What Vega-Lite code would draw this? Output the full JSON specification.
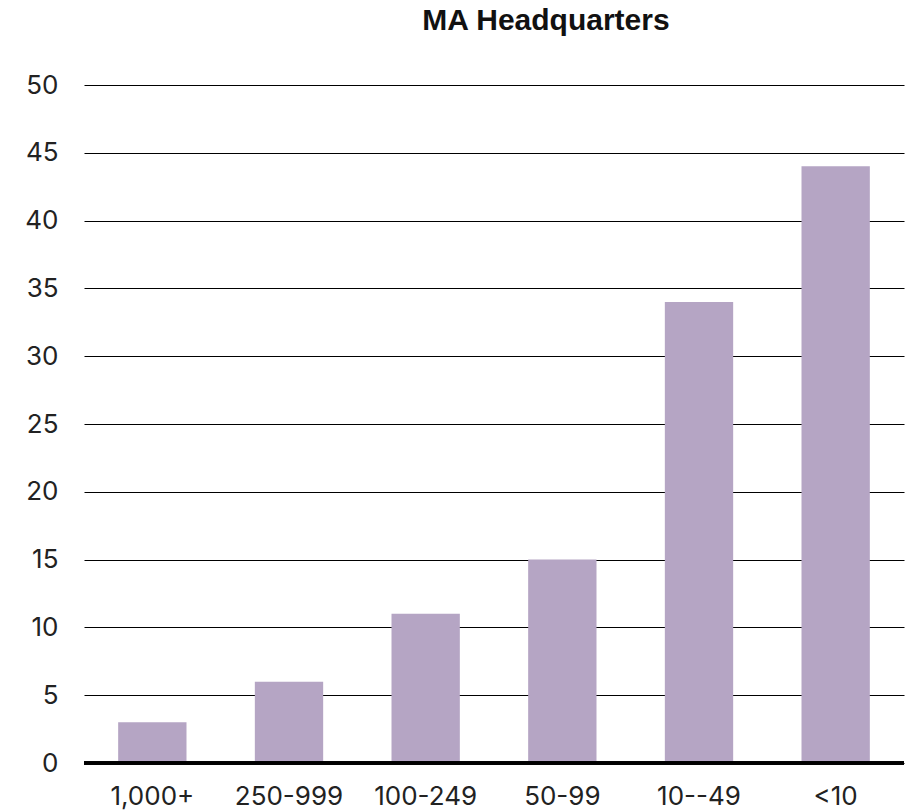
{
  "$schema": "https://vega.github.io/schema/vega-lite/v6.json",
  "autosize": "none",
  "width": 820,
  "height": 678,
  "padding": {"left": 84, "top": 85, "right": 3, "bottom": 48},
  "background": "white",
  "title": {
    "text": "MA Headquarters",
    "font": "Liberation Sans",
    "fontWeight": "bold",
    "fontSize": 30,
    "color": "#111",
    "anchor": "middle",
    "frame": "group",
    "offset": 36,
    "dx": 52
  },
  "data": {
    "values": [
      {"size": "1,000+", "count": 3},
      {"size": "250-999", "count": 6},
      {"size": "100-249", "count": 11},
      {"size": "50-99", "count": 15},
      {"size": "10--49", "count": 34},
      {"size": "<10", "count": 44}
    ]
  },
  "config": {
    "view": {"stroke": null},
    "axis": {"labelFont": "Inter", "labelFontSize": 26, "labelColor": "#222"}
  },
  "layer": [
    {
      "mark": {"type": "bar", "color": "#b5a5c4"},
      "encoding": {
        "x": {
          "field": "size",
          "type": "nominal",
          "sort": null,
          "scale": {"paddingInner": 0.5, "paddingOuter": 0.25},
          "axis": {"title": null, "labelAngle": 0, "ticks": false, "domain": false, "labelPadding": 20}
        },
        "y": {
          "field": "count",
          "type": "quantitative",
          "scale": {"domain": [0, 50], "nice": false},
          "axis": {
            "title": null,
            "values": [0, 5, 10, 15, 20, 25, 30, 35, 40, 45, 50],
            "ticks": false,
            "domain": false,
            "labelPadding": 26,
            "grid": true,
            "gridColor": "#000",
            "gridWidth": 1
          }
        }
      }
    },
    {
      "mark": {"type": "rule", "color": "#000", "strokeWidth": 3},
      "encoding": {"y": {"datum": 0}}
    }
  ]
}
